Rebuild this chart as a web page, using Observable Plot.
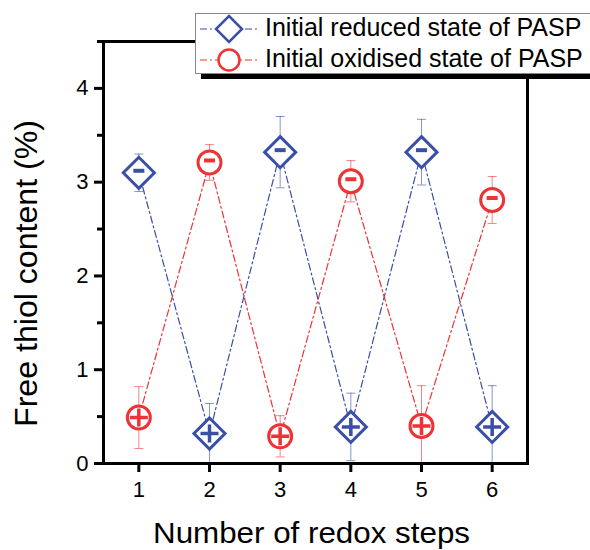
<!DOCTYPE html>
<html><head><meta charset="utf-8">
<script src="https://cdn.jsdelivr.net/npm/d3@7"></script>
<script src="https://cdn.jsdelivr.net/npm/@observablehq/plot@0.6"></script>
<style>body{margin:0;overflow:hidden;background:#fff}</style>
</head><body><div id="chart"></div>
<script>
const steps = [1, 2, 3, 4, 5, 6];
const seriesNames = ["Initial reduced state of PASP", "Initial oxidised state of PASP"];
const reducedValues = [3.10, 0.32, 3.32, 0.39, 3.32, 0.39];
const reducedErrors = [0.20, 0.32, 0.38, 0.36, 0.35, 0.44];
const reducedSigns = ["-", "+", "-", "+", "-", "+"];
const oxidisedValues = [0.49, 3.21, 0.29, 3.01, 0.40, 2.81];
const oxidisedErrors = [0.33, 0.19, 0.22, 0.22, 0.43, 0.25];
const oxidisedSigns = ["+", "-", "+", "-", "+", "-"];
const xTicks = [1, 2, 3, 4, 5, 6];
const yTicks = [0, 1, 2, 3, 4];
const yMinorTicks = [0.5, 1.5, 2.5, 3.5, 4.5];
const xTitle = "Number of redox steps";
const yTitle = "Free thiol content (%)";
const colors = ["#3a4fa6", "#ee3236"];

const data = [];
steps.forEach((s, i) => {
  data.push({series: seriesNames[0], step: s, value: reducedValues[i], err: reducedErrors[i], sign: reducedSigns[i]});
  data.push({series: seriesNames[1], step: s, value: oxidisedValues[i], err: oxidisedErrors[i], sign: oxidisedSigns[i]});
});
const reducedData = data.filter(d => d.series === seriesNames[0]);
const oxidisedData = data.filter(d => d.series === seriesNames[1]);

const hbar = {draw(ctx, size) { const r = Math.sqrt(size / Math.PI); ctx.moveTo(-r, 0); ctx.lineTo(r, 0); }};
const plusSym = {draw(ctx, size) { const r = Math.sqrt(size / Math.PI); ctx.moveTo(-r, 0); ctx.lineTo(r, 0); ctx.moveTo(0, -r); ctx.lineTo(0, r); }};

const dash = "7,3,2,3";
const font = "'Liberation Sans', Arial, sans-serif";
const chart = Plot.plot({
  width: 590, height: 550,
  marginLeft: 103, marginRight: 63, marginTop: 41, marginBottom: 87,
  style: {fontFamily: font, color: "black", background: "white", overflow: "hidden"},
  x: {domain: [0.5, 6.5]},
  y: {domain: [0, 4.5]},
  color: {domain: seriesNames, range: colors},
  marks: [
    Plot.line(data, {x: "step", y: "value", z: "series", stroke: "series", strokeWidth: 1.2, strokeDasharray: dash}),
    Plot.ruleX(data, {x: "step", y1: d => d.value - d.err, y2: d => d.value + d.err, stroke: "series", strokeWidth: 1, strokeOpacity: 0.6, clip: true}),
    Plot.dot(data, {x: "step", y: d => d.value + d.err, symbol: hbar, r: 4.5, stroke: "series", strokeWidth: 1, strokeOpacity: 0.6, clip: true}),
    Plot.dot(data, {x: "step", y: d => d.value - d.err, symbol: hbar, r: 4.5, stroke: "series", strokeWidth: 1, strokeOpacity: 0.6, clip: true}),
    Plot.dot(reducedData, {x: "step", y: "value", symbol: "diamond2", r: 14, fill: "white", stroke: "series", strokeWidth: 3}),
    Plot.dot(oxidisedData, {x: "step", y: "value", symbol: "circle", r: 11.5, fill: "white", stroke: "series", strokeWidth: 3}),
    Plot.dot(data.filter(d => d.sign === "+"), {x: "step", y: "value", symbol: plusSym, r: 9, stroke: "series", strokeWidth: 3.5, strokeLinecap: "butt"}),
    Plot.dot(data.filter(d => d.sign === "-"), {x: "step", y: "value", dy: -2, symbol: hbar, r: 5.5, stroke: "series", strokeWidth: 4, strokeLinecap: "butt"}),
    Plot.frame({stroke: "black", strokeWidth: 3}),
    Plot.axisX({ticks: xTicks, tickSize: 9, tickPadding: 9, strokeWidth: 3, fontSize: 22, label: null, tickFormat: d => String(d)}),
    Plot.axisY({ticks: yTicks, tickSize: 9, tickPadding: 6, strokeWidth: 3, fontSize: 22, label: null, tickFormat: d => String(d)}),
    Plot.axisY({ticks: yMinorTicks, tickSize: 6, strokeWidth: 3, text: null, label: null})
  ]
});
document.getElementById("chart").appendChild(chart);

const svg = d3.select(chart);
svg.append("text").attr("x", 311.5).attr("y", 542.7).attr("text-anchor", "middle")
  .attr("font-family", font).attr("font-size", 29).attr("fill", "black")
  .attr("textLength", 317).attr("lengthAdjust", "spacingAndGlyphs").text(xTitle);
svg.append("text").attr("transform", "translate(37,273.5) rotate(-90)").attr("text-anchor", "middle")
  .attr("font-family", font).attr("font-size", 31).attr("fill", "black")
  .attr("textLength", 307).attr("lengthAdjust", "spacingAndGlyphs").text(yTitle);

// legend
const lg = svg.append("g");
lg.append("rect").attr("x", 201).attr("y", 19).attr("width", 420).attr("height", 60).attr("fill", "black");
lg.append("rect").attr("x", 195.5).attr("y", 13.5).attr("width", 420).attr("height", 60).attr("fill", "white").attr("stroke", "#888").attr("stroke-width", 1);
const rowY = [29, 60], baseY = [36, 67];
seriesNames.forEach((name, i) => {
  lg.append("line").attr("x1", 200).attr("x2", 258).attr("y1", rowY[i]).attr("y2", rowY[i])
    .attr("stroke", colors[i]).attr("stroke-width", 1.2).attr("stroke-dasharray", dash);
  if (i === 0) {
    const h = 13;
    lg.append("path").attr("d", `M229,${rowY[i]-h}L${229+h},${rowY[i]}L229,${rowY[i]+h}L${229-h},${rowY[i]}Z`)
      .attr("fill", "white").attr("stroke", colors[i]).attr("stroke-width", 2.5);
  } else {
    lg.append("circle").attr("cx", 229).attr("cy", rowY[i]).attr("r", 10.5)
      .attr("fill", "white").attr("stroke", colors[i]).attr("stroke-width", 2.5);
  }
  lg.append("text").attr("x", 265).attr("y", baseY[i]).attr("text-anchor", "start").attr("font-family", font).attr("font-size", 25)
    .attr("fill", "black").text(name);
});
</script></body></html>
